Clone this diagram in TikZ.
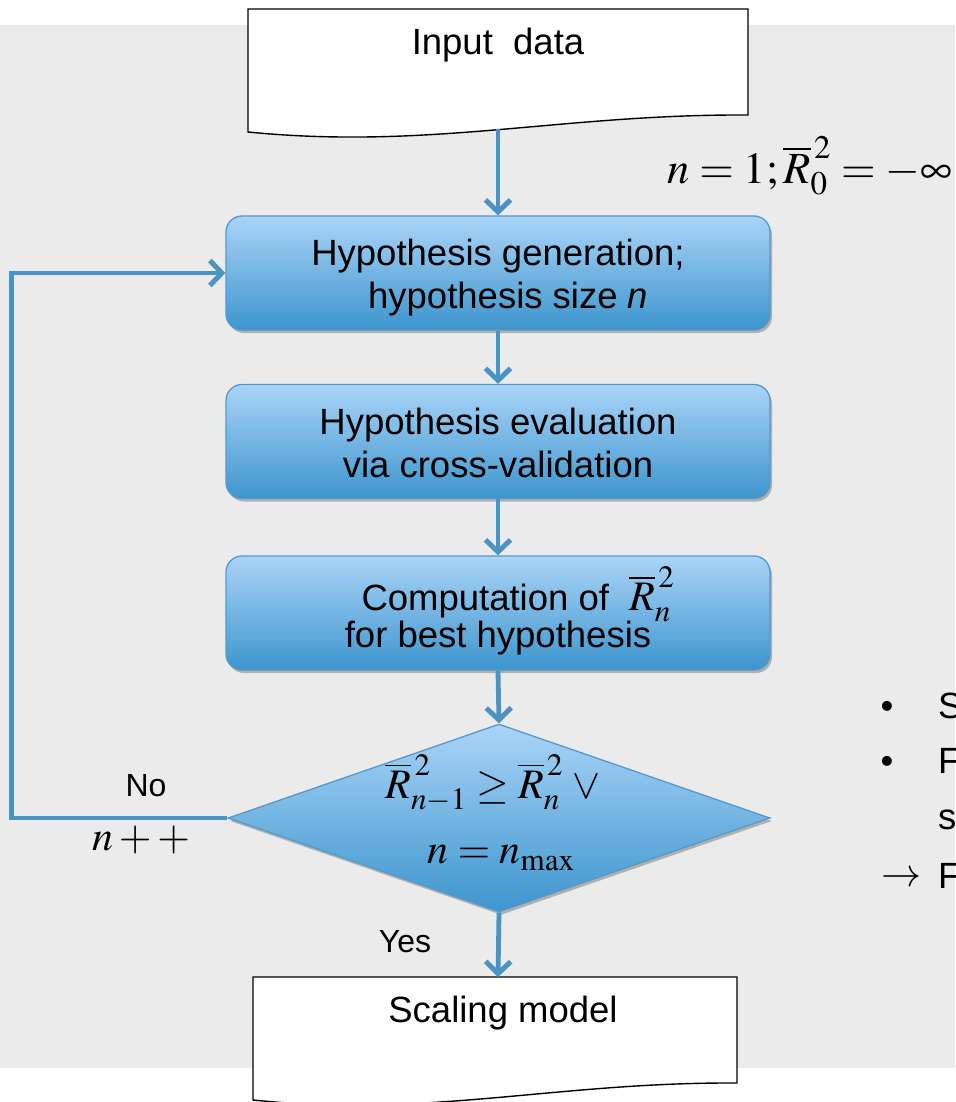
\documentclass[tikz,border=0pt]{standalone}
\usepackage{mathptmx}
\usepackage[no-math]{fontspec}
\setmainfont{Liberation Sans}
\usetikzlibrary{arrows.meta,shapes.geometric,shadows,calc}

\definecolor{pagegray}{HTML}{EBEBEB}
\definecolor{flowblue}{HTML}{4A93C3}
\definecolor{boxedge}{HTML}{5598CC}
\definecolor{boxtop}{HTML}{AAD4F8}
\definecolor{boxbot}{HTML}{3D95CD}

\tikzset{
  sans/.style={font=\fontsize{36.5}{43}\selectfont},
  mathtxt/.style={font=\fontsize{42}{46}\selectfont},
  boxtext/.style={sans, align=center, inner sep=0pt},
  stepbox/.style={rectangle, rounded corners=16pt, draw=boxedge, line width=1.3pt,
    top color=boxtop, bottom color=boxbot, minimum width=544pt, minimum height=114pt,
    inner sep=0pt,
    drop shadow={shadow xshift=2pt, shadow yshift=-3pt, opacity=0.25, fill=black}},
  decbox/.style={diamond, draw=boxedge, line width=1.3pt,
    top color=boxtop, bottom color=boxbot, minimum width=542pt, minimum height=188pt,
    inner sep=0pt,
    drop shadow={shadow xshift=2pt, shadow yshift=-3pt, opacity=0.25, fill=black}},
  docshape/.style={draw=black, fill=white, line width=1.4pt},
  flow/.style={draw=flowblue, line width=4.8pt,
    -{Straight Barb[length=12pt, width=25pt, line width=5pt]}}
}

\begin{document}
\begin{tikzpicture}[x=1pt, y=-1pt]
  \clip (0,0) rectangle (955,1102);
  \fill[white] (0,0) rectangle (955,1102);
  \fill[pagegray] (0,25) rectangle (955,1068);

  % input document
  \draw[docshape] (248,9) -- (748,9) -- (748,115)
    .. controls (560,114) and (430,150) .. (248,132) -- cycle;
  \node[sans] (input) at (498,45) {Input\ \ data};
  \coordinate (inbot) at (498,129);

  % output document
  \draw[docshape] (253,977) -- (737,977) -- (737,1083)
    .. controls (556,1082) and (430,1118) .. (253,1100) -- cycle;
  \node[sans] (output) at (503,1013) {Scaling model};
  \coordinate (outtop) at (498,977);

  % process boxes
  \node[stepbox] (gen) at (498,273) {};
  \node[boxtext] (gentext) at (498,278)
    {Hypothesis generation;\\ \ \ hypothesis size \textit{n}};
  \node[stepbox] (eval) at (498,441.5) {};
  \node[boxtext] (evaltext) at (498,443)
    {Hypothesis evaluation\\ via cross-validation};
  \node[stepbox] (comp) at (498,613) {};
  \node[boxtext] (comptext) at (498,611)
    {\hspace*{40pt}Computation of \ {\fontsize{42}{46}\selectfont$\overline{R}^{\,2}_{n}$}\\[-6pt]
     for best hypothesis};

  % decision
  \node[decbox] (dec) at (499,818) {};
  \node[mathtxt] (cond1) at (493,783)
    {$\overline{R}^{\,2}_{n-1} \geq \overline{R}^{\,2}_{n}\;\vee$};
  \node[mathtxt] (cond2) at (501,858) {$n = n_{\max}$};

  % connectors
  \draw[flow] (inbot) -- (gen.north);
  \draw[flow] (gen.south) -- (eval.north);
  \draw[flow] (eval.south) -- (comp.north);
  \draw[flow] (comp.south) -- (dec.north);
  \draw[flow] (dec.south) -- (outtop);
  \draw[flow] (dec.west) -- ++(-216,0) |- (gen.west);

  % labels
  \node[sans, font=\fontsize{32}{36}\selectfont] (no) at (146,786) {No};
  \node[mathtxt] (inc) at (141,840) {$n + {+}$};
  \node[sans, font=\fontsize{32}{36}\selectfont] (yes) at (405,942) {Yes};
  \node[font=\fontsize{44.5}{48}\selectfont, anchor=base west, inner sep=0pt] (init) at (667,184)
    {$n = 1; \overline{R}^{\,2}_{0} = -\infty$};

  % text running off to the right
  \node[sans, anchor=base, inner sep=0pt] (b1) at (887,718) {•};
  \node[sans, anchor=base west, inner sep=0pt] (t1) at (938,718) {S};
  \node[sans, anchor=base, inner sep=0pt] (b2) at (887,773) {•};
  \node[sans, anchor=base west, inner sep=0pt] (t2) at (938,773) {F};
  \node[sans, anchor=base west, inner sep=0pt] (t3) at (938,829) {s};
  \node[sans, font=\fontsize{40}{44}\selectfont, anchor=base, inner sep=0pt] (b3) at (901,886) {$\rightarrow$};
  \node[sans, anchor=base west, inner sep=0pt] (t4) at (938,888) {F};
\end{tikzpicture}
\end{document}
